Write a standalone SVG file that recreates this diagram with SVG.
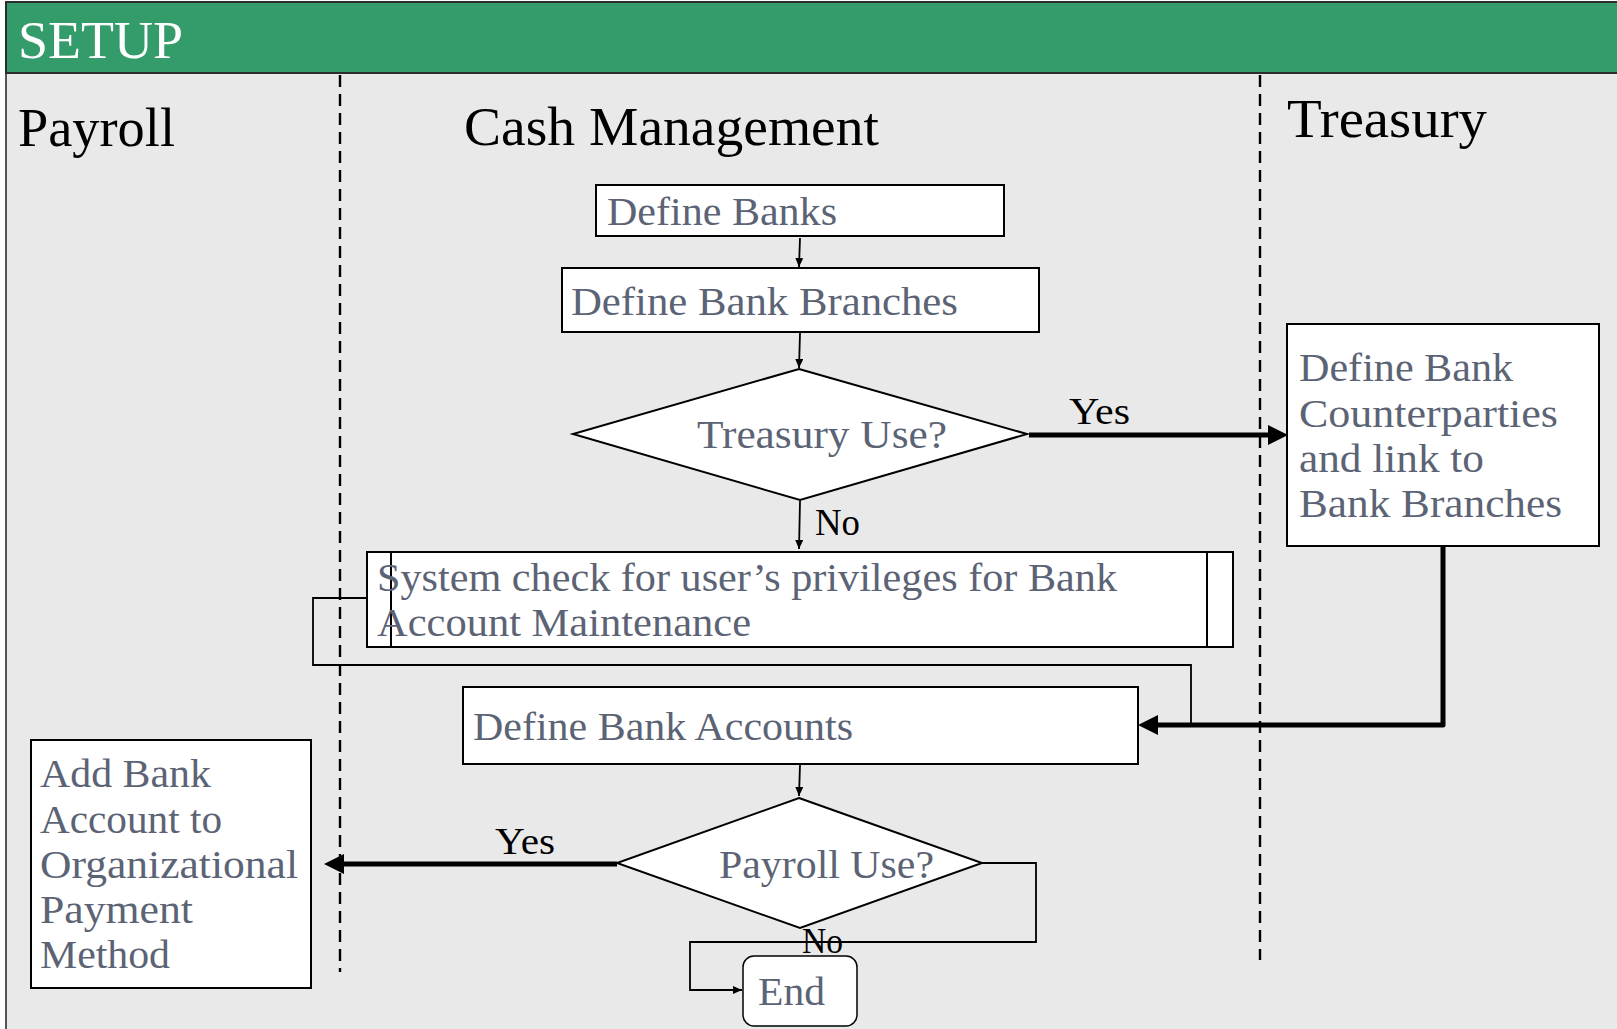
<svg xmlns="http://www.w3.org/2000/svg" width="1617" height="1029" viewBox="0 0 1617 1029">
<defs>
<style>
.hdr{font-family:"Liberation Serif","Times New Roman",serif;font-size:54px;fill:#000}
.nt{font-family:"Liberation Serif","Times New Roman",serif;font-size:41px;fill:#5b6374}
.lbl{font-family:"Liberation Serif","Times New Roman",serif;font-size:38px;fill:#000}
.box{fill:#fff;stroke:#000;stroke-width:2}
.thin{fill:none;stroke:#000;stroke-width:1.8}
.thick{fill:none;stroke:#000;stroke-width:5}
.lane{fill:none;stroke:#000;stroke-width:2.4;stroke-dasharray:12 7}
</style>
<marker id="ah" markerUnits="userSpaceOnUse" markerWidth="9" markerHeight="8" refX="9" refY="4" orient="auto">
<path d="M0,0 L9,4 L0,8 z" fill="#000"/>
</marker>
<marker id="ahb" markerUnits="userSpaceOnUse" markerWidth="20" markerHeight="20" refX="0" refY="10" orient="auto">
<path d="M0,0 L20,10 L0,20 z" fill="#000"/>
</marker>
</defs>
<g id="frame">
<rect x="6" y="73" width="1620" height="970" fill="#e9e9e9" stroke="#555" stroke-width="2"/>
<rect x="6" y="2" width="1620" height="71" fill="#349b6a" stroke="#2d2d2d" stroke-width="2"/>
<text x="18" y="58" class="hdr" style="fill:#fff;font-size:52px" textLength="165" lengthAdjust="spacingAndGlyphs">SETUP</text>
</g>
<g id="lanes">
<line class="lane" x1="340" y1="75" x2="340" y2="972"/>
<line class="lane" x1="1260" y1="75" x2="1260" y2="960"/>
<text x="18" y="146" class="hdr" textLength="157" lengthAdjust="spacingAndGlyphs">Payroll</text>
<text x="464" y="145" class="hdr" textLength="415" lengthAdjust="spacingAndGlyphs">Cash Management</text>
<text x="1287" y="137" class="hdr" textLength="200" lengthAdjust="spacingAndGlyphs">Treasury</text>
</g>
<g id="connectors">
<path class="thin" d="M800,238 L799,267" marker-end="url(#ah)"/>
<path class="thin" d="M800,333 L799,368" marker-end="url(#ah)"/>
<path class="thin" d="M800,501 L799,549" marker-end="url(#ah)"/>
<path class="thin" d="M800,765 L799,796" marker-end="url(#ah)"/>
<path class="thick" d="M1029,435 H1268" marker-end="url(#ahb)"/>
<path class="thick" d="M1443,546 V725 H1158" stroke-linejoin="round" marker-end="url(#ahb)"/>
<path class="thin" d="M367,598 H313 V665 H1191 V725 H1140" marker-end="url(#ah)"/>
<path class="thick" d="M617,864 H344" marker-end="url(#ahb)"/>
<path class="thin" d="M982,863 H1036 V942 H690 V990 H742" marker-end="url(#ah)"/>
<text x="1069" y="424" class="lbl" textLength="61" lengthAdjust="spacingAndGlyphs">Yes</text>
<text x="815" y="535" class="lbl" textLength="45" lengthAdjust="spacingAndGlyphs">No</text>
<text x="495" y="854" class="lbl" textLength="60" lengthAdjust="spacingAndGlyphs">Yes</text>
<text x="802" y="953" class="lbl" style="font-size:35px" textLength="41" lengthAdjust="spacingAndGlyphs">No</text>
</g>
<g id="define-banks">
<rect class="box" x="596" y="185" width="408" height="51"/>
<text x="607" y="225" class="nt" textLength="230" lengthAdjust="spacingAndGlyphs">Define Banks</text>
</g>
<g id="define-bank-branches">
<rect class="box" x="562" y="268" width="477" height="64"/>
<text x="571" y="315" class="nt" textLength="387" lengthAdjust="spacingAndGlyphs">Define Bank Branches</text>
</g>
<g id="treasury-use">
<polygon class="box" points="799,369 1027,434 800,500 573,434"/>
<text x="697" y="448" class="nt" textLength="250" lengthAdjust="spacingAndGlyphs">Treasury Use?</text>
</g>
<g id="define-counterparties">
<rect class="box" x="1287" y="324" width="312" height="222"/>
<text x="1299" y="381" class="nt" textLength="214" lengthAdjust="spacingAndGlyphs">Define Bank</text>
<text x="1299" y="427" class="nt" textLength="259" lengthAdjust="spacingAndGlyphs">Counterparties</text>
<text x="1299" y="472" class="nt" textLength="185" lengthAdjust="spacingAndGlyphs">and link to</text>
<text x="1299" y="517" class="nt" textLength="263" lengthAdjust="spacingAndGlyphs">Bank Branches</text>
</g>
<g id="system-check">
<rect class="box" x="367" y="552" width="866" height="95"/>
<line x1="391" y1="552" x2="391" y2="648" stroke="#000" stroke-width="2"/>
<line x1="1207" y1="552" x2="1207" y2="648" stroke="#000" stroke-width="2"/>
<text x="377" y="591" class="nt" textLength="740" lengthAdjust="spacingAndGlyphs">System check for user’s privileges for Bank</text>
<text x="377" y="636" class="nt" textLength="374" lengthAdjust="spacingAndGlyphs">Account Maintenance</text>
</g>
<g id="define-bank-accounts">
<rect class="box" x="463" y="687" width="675" height="77"/>
<text x="473" y="740" class="nt" textLength="380" lengthAdjust="spacingAndGlyphs">Define Bank Accounts</text>
</g>
<g id="payroll-use">
<polygon class="box" points="799,798 982,863 800,928 617,863"/>
<text x="719" y="878" class="nt" textLength="215" lengthAdjust="spacingAndGlyphs">Payroll Use?</text>
</g>
<g id="add-bank-account">
<rect class="box" x="31" y="740" width="280" height="248"/>
<text x="40" y="787" class="nt" textLength="171" lengthAdjust="spacingAndGlyphs">Add Bank</text>
<text x="40" y="833" class="nt" textLength="182" lengthAdjust="spacingAndGlyphs">Account to</text>
<text x="40" y="878" class="nt" textLength="258" lengthAdjust="spacingAndGlyphs">Organizational</text>
<text x="40" y="923" class="nt" textLength="153" lengthAdjust="spacingAndGlyphs">Payment</text>
<text x="40" y="968" class="nt" textLength="130" lengthAdjust="spacingAndGlyphs">Method</text>
</g>
<g id="end">
<rect x="743" y="956" width="114" height="70" rx="11" ry="11" fill="#fff" stroke="#000" stroke-width="1.5"/>
<text x="758" y="1005" class="nt" textLength="67" lengthAdjust="spacingAndGlyphs">End</text>
</g>
</svg>
